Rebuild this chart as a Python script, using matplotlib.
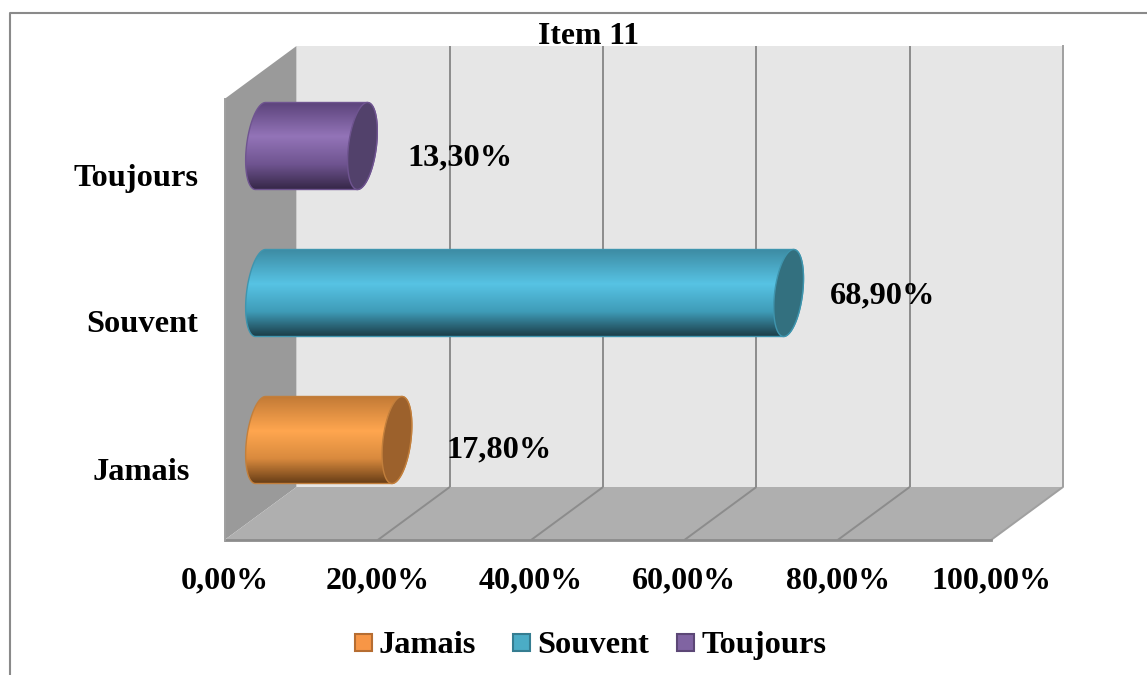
import matplotlib
matplotlib.use('Agg')
import matplotlib.pyplot as plt
from matplotlib.colors import LinearSegmentedColormap
from matplotlib.patches import PathPatch, Polygon, Rectangle
from matplotlib.path import Path
from matplotlib.transforms import Affine2D
import numpy as np

categories = ['Jamais', 'Souvent', 'Toujours']
values = [17.8, 68.9, 13.3]
value_labels = ['17,80%', '68,90%', '13,30%']
x_ticks = [0, 20, 40, 60, 80, 100]
x_tick_labels = ['0,00%', '20,00%', '40,00%', '60,00%', '80,00%', '100,00%']

W, H = 1147, 675
FONT = 'Liberation Serif'
FS = 23.3

# top, highlight and shadow shades for the cylinders
body_colors = [
    ['#c27a36', '#ffa64f', '#d98a3e', '#6a3f17'],
    ['#3d8ba3', '#57c3e4', '#3f9cb8', '#1c3f4a'],
    ['#5a4279', '#9374b8', '#6f5490', '#372849'],
]
edge_colors = ['#c27f3c', '#3f95ae', '#6f5490']
cap_colors = ['#9c612c', '#33707f', '#52416b']
legend_faces = ['#f79646', '#4bacc6', '#8064a2']
legend_edges = ['#b66d31', '#357d91', '#5c4776']

# depth offset of the box, and cylinder size, in data units
px_x = 100 / 766.5
px_y = 3 / 441
dx = 36 * px_x
dy = 26.5 * px_y
bar_half = 43.5 * px_y
end_a = 14 * px_x
end_s = 5 * px_x

y0, y1 = -0.5, 2.5

# the axes span the full depth of the 3D box in x
fig = plt.figure(figsize=(W / 100, H / 100), dpi=100)
fig.patch.set_facecolor('white')
ax = fig.add_axes([224.5 / W, 1 - 513.5 / H, 838.5 / W, 441 / H])
ax.patch.set_visible(False)
for s in ax.spines.values():
    s.set_visible(False)


def poly(pts, **kw):
    ax.add_patch(Polygon(pts, closed=True, clip_on=False, **kw))


# side wall, back wall and floor
poly([(-dx, y0 - dy), (dx, y0 + dy), (dx, y1 + dy), (-dx, y1 - dy)], fc='#9a9a9a', ec='none', zorder=1)
poly([(dx, y0 + dy), (100 + dx, y0 + dy), (100 + dx, y1 + dy), (dx, y1 + dy)], fc='#e6e6e6', ec='none', zorder=1)
poly([(-dx, y0 - dy), (100 - dx, y0 - dy), (100 + dx, y0 + dy), (dx, y0 + dy)], fc='#afafaf', ec='none', zorder=1)

line_kw = dict(color='#8c8c8c', lw=1.4, clip_on=False, zorder=2, solid_capstyle='butt')
for t in x_ticks[1:-1]:
    ax.plot([t + dx, t + dx], [y0 + dy, y1 + dy], **line_kw)
    ax.plot([t - dx, t + dx], [y0 - dy, y0 + dy], **line_kw)
ax.plot([100 - dx, 100 + dx, 100 + dx], [y0 - dy, y0 + dy, y1 + dy], color='#a0a0a0', lw=1.4, clip_on=False, zorder=2)
ax.plot([-dx, 100 - dx], [y0 - dy, y0 - dy], color='#8c8c8c', lw=2, clip_on=False, zorder=2)
ax.plot([-dx, -dx], [y1 - dy, y0 - dy], color='#a0a0a0', lw=1.4, clip_on=False, zorder=2)


def ellipse_pts(cx, cy, t):
    # slanted ellipse, the ends of the cylinder lean with the view
    return np.column_stack([cx + end_a * np.cos(t) + end_s * np.sin(t), cy + bar_half * np.sin(t)])


label_shift = [(35, -10), (27, -3), (31, -12)]

for i, v in enumerate(values):
    t_right = np.linspace(-np.pi / 2, np.pi / 2, 60)
    t_left = np.linspace(np.pi / 2, 3 * np.pi / 2, 60)
    outline = np.vstack([ellipse_pts(v, i, t_right), ellipse_pts(0, i, t_left)])
    outline = np.vstack([outline, outline[0]])
    body = PathPatch(Path(outline), fc='none', ec=edge_colors[i], lw=1, clip_on=False, zorder=4)
    ax.add_patch(body)

    cmap = LinearSegmentedColormap.from_list(
        'body', list(zip([0, 0.4, 0.72, 1], body_colors[i])))
    grad = np.linspace(0, 1, 200).reshape(-1, 1)
    im = ax.imshow(grad, cmap=cmap, aspect='auto', zorder=3,
                   extent=[-end_a - end_s, v + end_a + end_s, i - bar_half, i + bar_half],
                   interpolation='bilinear')
    im.set_clip_path(PathPatch(Path(outline), transform=ax.transData))

    cap = ellipse_pts(v, i, np.linspace(0, 2 * np.pi, 120))
    ax.add_patch(Polygon(cap, closed=True, fc=cap_colors[i], ec=edge_colors[i], lw=1, clip_on=False, zorder=5))

    sx, sy = label_shift[i]
    ax.text(v + end_a, i, value_labels[i], fontfamily=FONT, fontweight='bold', fontsize=FS, color='black',
            va='center', ha='left', zorder=6, transform=ax.transData + Affine2D().translate(sx, sy))

ax.set_xticks(np.array(x_ticks) - dx)
ax.set_xticklabels(x_tick_labels, fontfamily=FONT, fontweight='bold', fontsize=23)
ax.set_yticks([])
ax.tick_params(axis='x', length=0, pad=38)

# ticks and imshow both move the limits, so set them last
ax.set_xlim(-dx, 100 + dx)
ax.set_ylim(y0, y1)

cat_right = [190, 198, 198]
cat_y = [472, 324, 178]
for name, xp, yp in zip(categories, cat_right, cat_y):
    fig.text(xp / W, 1 - yp / H, name, fontfamily=FONT, fontweight='bold', fontsize=FS, ha='right', va='center')

fig.text(588 / W, 1 - 36 / H, 'Item 11', fontfamily=FONT, fontweight='bold', fontsize=22.8, ha='center', va='center')

# legend entries are not evenly spaced, so they are placed one by one
legend_x = [355, 513, 677]
for name, xp, fc, ec in zip(categories, legend_x, legend_faces, legend_edges):
    fig.add_artist(Rectangle((xp / W, 1 - 651 / H), 17 / W, 17 / H, transform=fig.transFigure, fc=fc, ec=ec, lw=1.5))
    fig.text((xp + 24) / W, 1 - 653 / H, name, fontfamily=FONT, fontweight='bold', fontsize=FS, ha='left', va='baseline')

# outer frame, only the top and left edges are inside the image
fig.add_artist(plt.Line2D([9.5 / W, 9.5 / W, 1], [0, 1 - 12.5 / H, 1 - 12.5 / H], transform=fig.transFigure,
                          color='#8a8a8a', lw=1.5))

fig.savefig('out.png', dpi=100)
